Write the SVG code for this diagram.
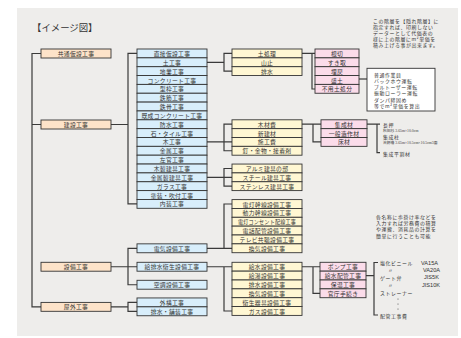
<svg xmlns="http://www.w3.org/2000/svg" width="461" height="338" viewBox="0 0 461 338">
<style>
.bx{stroke:#333;stroke-width:0.9}
.o{fill:#fde3c9}
.b{fill:#d8eefb}
.y{fill:#fff7d3}
.p{fill:#fbdcea}
.t{font-family:"Noto Sans CJK JP","Noto Sans",sans-serif;font-size:5.8px;fill:#333;text-anchor:middle;dominant-baseline:central;letter-spacing:0.3px}
.n{font-family:"Noto Sans CJK JP","Noto Sans",sans-serif;font-size:4.9px;fill:#333;dominant-baseline:central;letter-spacing:0.6px}
.s{font-family:"Liberation Serif","Noto Sans CJK JP",serif;font-size:3.8px;fill:#444;dominant-baseline:central}
.a{font-family:"Liberation Sans",sans-serif;font-size:5.6px;fill:#333;dominant-baseline:central}
.c{fill:none;stroke:#3a3a3a;stroke-width:1.2}
</style>
<rect x="0" y="0" width="461" height="338" fill="#ffffff"/>
<rect x="17" y="8" width="441" height="328" fill="#eeedeb"/>
<text x="32" y="27" font-family="Noto Sans CJK JP,sans-serif" font-size="9.4" fill="#333" dominant-baseline="central">【イメージ図】</text>

<g id="connectors" class="c">
<path d="M41,53.5H32V306.85H41M32,124.5H41"/>
<path d="M111,124.5H128M137,53.4H128V203.9H137"/>
<path d="M207,62.3H224M232,53.4H224V71.1H232"/>
<path d="M302,53.4H315M312,53.4V89H315"/>
<path d="M359,79H367"/>
<path d="M207,141.9H232M232,124.2H224V150.75H232"/>
<path d="M302,124.2H321M313,124.2V141.9H321"/>
<path d="M367,124.2H380M377,124.2V152.7H380"/>
<path d="M207,177.3H232M232,168.5H224V186.2H232"/>
<path d="M111,266.75H137M137,248.3H128V284.75H137"/>
<path d="M207,248.3H232M232,204H224V248.3"/>
<path d="M207,266.75H232M224,266.75V311H232"/>
<path d="M302,266.75H320M313,266.75V293.3H320"/>
<path d="M366,275.6H374M378,262.5H374V315H378"/>
<path d="M111,306.85H128M137,302.4H128V311.3H137"/>
</g>

<g id="kyotsu"><rect class="bx o" x="41" y="49" width="70" height="9"/><text class="t" x="76" y="53.5">共通仮設工事</text></g>
<g id="kensetsu"><rect class="bx o" x="41" y="120" width="70" height="9"/><text class="t" x="76" y="124.5">建設工事</text></g>
<g id="setsubi"><rect class="bx o" x="41" y="262.3" width="70" height="8.9"/><text class="t" x="76" y="266.75">設備工事</text></g>
<g id="okugai"><rect class="bx o" x="41" y="302.4" width="70" height="8.9"/><text class="t" x="76" y="306.85">屋外工事</text></g>

<g id="b01"><rect class="bx b" x="137" y="49" width="70" height="8.85"/><text class="t" x="172" y="53.4">直接仮設工事</text></g>
<g id="b02"><rect class="bx b" x="137" y="57.85" width="70" height="8.85"/><text class="t" x="172" y="62.3">土工事</text></g>
<g id="b03"><rect class="bx b" x="137" y="66.7" width="70" height="8.85"/><text class="t" x="172" y="71.1">地業工事</text></g>
<g id="b04"><rect class="bx b" x="137" y="75.55" width="70" height="8.85"/><text class="t" x="172" y="80">コンクリート工事</text></g>
<g id="b05"><rect class="bx b" x="137" y="84.4" width="70" height="8.85"/><text class="t" x="172" y="88.8">型枠工事</text></g>
<g id="b06"><rect class="bx b" x="137" y="93.25" width="70" height="8.85"/><text class="t" x="172" y="97.7">鉄筋工事</text></g>
<g id="b07"><rect class="bx b" x="137" y="102.1" width="70" height="8.85"/><text class="t" x="172" y="106.5">鉄骨工事</text></g>
<g id="b08"><rect class="bx b" x="137" y="110.95" width="70" height="8.85"/><text class="t" x="172" y="115.4">既成コンクリート工事</text></g>
<g id="b09"><rect class="bx b" x="137" y="119.8" width="70" height="8.85"/><text class="t" x="172" y="124.2">防水工事</text></g>
<g id="b10"><rect class="bx b" x="137" y="128.65" width="70" height="8.85"/><text class="t" x="172" y="133.1">石・タイル工事</text></g>
<g id="b11"><rect class="bx b" x="137" y="137.5" width="70" height="8.85"/><text class="t" x="172" y="141.9">木工事</text></g>
<g id="b12"><rect class="bx b" x="137" y="146.35" width="70" height="8.85"/><text class="t" x="172" y="150.8">金属工事</text></g>
<g id="b13"><rect class="bx b" x="137" y="155.2" width="70" height="8.85"/><text class="t" x="172" y="159.6">左官工事</text></g>
<g id="b14"><rect class="bx b" x="137" y="164.05" width="70" height="8.85"/><text class="t" x="172" y="168.5">木製建具工事</text></g>
<g id="b15"><rect class="bx b" x="137" y="172.9" width="70" height="8.85"/><text class="t" x="172" y="177.3">金属製建具工事</text></g>
<g id="b16"><rect class="bx b" x="137" y="181.75" width="70" height="8.85"/><text class="t" x="172" y="186.2">ガラス工事</text></g>
<g id="b17"><rect class="bx b" x="137" y="190.6" width="70" height="8.85"/><text class="t" x="172" y="195">塗装・吹付工事</text></g>
<g id="b18"><rect class="bx b" x="137" y="199.45" width="70" height="8.85"/><text class="t" x="172" y="203.9">内装工事</text></g>

<g id="b19"><rect class="bx b" x="137" y="243.85" width="70" height="8.9"/><text class="t" x="172" y="248.3">電気設備工事</text></g>
<g id="b20"><rect class="bx b" x="137" y="262.3" width="70" height="8.9"/><text class="t" x="172" y="266.75">給排水衛生設備工事</text></g>
<g id="b21"><rect class="bx b" x="137" y="280.3" width="70" height="8.9"/><text class="t" x="172" y="284.75">空調設備工事</text></g>
<g id="b22"><rect class="bx b" x="137" y="297.95" width="70" height="8.9"/><text class="t" x="172" y="302.4">外構工事</text></g>
<g id="b23"><rect class="bx b" x="137" y="306.85" width="70" height="8.9"/><text class="t" x="172" y="311.3">排水・舗装工事</text></g>

<g id="y01"><rect class="bx y" x="232" y="49" width="70" height="8.85"/><text class="t" x="267" y="53.4">土処理</text></g>
<g id="y02"><rect class="bx y" x="232" y="57.85" width="70" height="8.85"/><text class="t" x="267" y="62.3">山止</text></g>
<g id="y03"><rect class="bx y" x="232" y="66.7" width="70" height="8.85"/><text class="t" x="267" y="71.1">排水</text></g>

<g id="y04"><rect class="bx y" x="232" y="119.8" width="70" height="8.85"/><text class="t" x="267" y="124.2">木材費</text></g>
<g id="y05"><rect class="bx y" x="232" y="128.65" width="70" height="8.85"/><text class="t" x="267" y="133.1">新建材</text></g>
<g id="y06"><rect class="bx y" x="232" y="137.5" width="70" height="8.85"/><text class="t" x="267" y="141.9">施工費</text></g>
<g id="y07"><rect class="bx y" x="232" y="146.35" width="70" height="8.85"/><text class="t" x="267" y="150.8">釘・金物・接着剤</text></g>

<g id="y08"><rect class="bx y" x="232" y="164.05" width="70" height="8.85"/><text class="t" x="267" y="168.5">アルミ建具の部</text></g>
<g id="y09"><rect class="bx y" x="232" y="172.9" width="70" height="8.85"/><text class="t" x="267" y="177.3">スチール建具工事</text></g>
<g id="y10"><rect class="bx y" x="232" y="181.75" width="70" height="8.85"/><text class="t" x="267" y="186.2">ステンレス建具工事</text></g>

<g id="y11"><rect class="bx y" x="232" y="199.6" width="70" height="8.85"/><text class="t" x="267" y="204">電灯幹線設備工事</text></g>
<g id="y12"><rect class="bx y" x="232" y="208.45" width="70" height="8.85"/><text class="t" x="267" y="212.9">動力幹線設備工事</text></g>
<g id="y13"><rect class="bx y" x="232" y="217.3" width="70" height="8.85"/><text class="t" x="267" y="221.7" textLength="58" lengthAdjust="spacingAndGlyphs">電灯コンセント配線工事</text></g>
<g id="y14"><rect class="bx y" x="232" y="226.15" width="70" height="8.85"/><text class="t" x="267" y="230.6">電話配管設備工事</text></g>
<g id="y15"><rect class="bx y" x="232" y="235" width="70" height="8.85"/><text class="t" x="267" y="239.4">テレビ共聴設備工事</text></g>
<g id="y16"><rect class="bx y" x="232" y="243.85" width="70" height="8.85"/><text class="t" x="267" y="248.3">換気設備工事</text></g>

<g id="y17"><rect class="bx y" x="232" y="262.3" width="70" height="8.85"/><text class="t" x="267" y="266.75">給水設備工事</text></g>
<g id="y18"><rect class="bx y" x="232" y="271.15" width="70" height="8.85"/><text class="t" x="267" y="275.6">給湯設備工事</text></g>
<g id="y19"><rect class="bx y" x="232" y="280" width="70" height="8.85"/><text class="t" x="267" y="284.4">排水設備工事</text></g>
<g id="y20"><rect class="bx y" x="232" y="288.85" width="70" height="8.85"/><text class="t" x="267" y="293.3">換気設備工事</text></g>
<g id="y21"><rect class="bx y" x="232" y="297.7" width="70" height="8.85"/><text class="t" x="267" y="302.1">衛生器具設備工事</text></g>
<g id="y22"><rect class="bx y" x="232" y="306.55" width="70" height="8.85"/><text class="t" x="267" y="311">ガス設備工事</text></g>

<g id="p01"><rect class="bx p" x="315" y="49" width="44" height="8.85"/><text class="t" x="337" y="53.4">根切</text></g>
<g id="p02"><rect class="bx p" x="315" y="57.85" width="44" height="8.85"/><text class="t" x="337" y="62.3">すき取</text></g>
<g id="p03"><rect class="bx p" x="315" y="66.7" width="44" height="8.85"/><text class="t" x="337" y="71.1">埋戻</text></g>
<g id="p04"><rect class="bx p" x="315" y="75.55" width="44" height="8.85"/><text class="t" x="337" y="80">盛土</text></g>
<g id="p05"><rect class="bx p" x="315" y="84.4" width="44" height="8.85"/><text class="t" x="337" y="88.8">不用土処分</text></g>

<g id="p06"><rect class="bx p" x="321" y="119.8" width="46" height="8.85"/><text class="t" x="344" y="124.2">集成材</text></g>
<g id="p07"><rect class="bx p" x="321" y="128.65" width="46" height="8.85"/><text class="t" x="344" y="133.1">一般造作材</text></g>
<g id="p08"><rect class="bx p" x="321" y="137.5" width="46" height="8.85"/><text class="t" x="344" y="141.9">床材</text></g>

<g id="p09"><rect class="bx p" x="320" y="262.3" width="46" height="8.85"/><text class="t" x="343" y="266.75">ポンプ工事</text></g>
<g id="p10"><rect class="bx p" x="320" y="271.15" width="46" height="8.85"/><text class="t" x="343" y="275.6">給水配管工事</text></g>
<g id="p11"><rect class="bx p" x="320" y="280" width="46" height="8.85"/><text class="t" x="343" y="284.4">保温工事</text></g>
<g id="p12"><rect class="bx p" x="320" y="288.85" width="46" height="8.85"/><text class="t" x="343" y="293.3">官庁手続き</text></g>

<g id="note1">
<text class="n" x="373" y="20.7">この階層を【隠れ階層】に</text>
<text class="n" x="373" y="26.7">指定すれば、印刷しない</text>
<text class="n" x="373" y="32.7">データーとして代価表の</text>
<text class="n" x="373" y="38.6">様に上の階層にm²単価を</text>
<text class="n" x="373" y="44.5">積み上げる事が出来ます。</text>
</g>
<g id="note2">
<rect x="367" y="68.3" width="68" height="42.7" fill="#ffffff" stroke="#333" stroke-width="0.9"/>
<text class="n" x="374" y="74.2">普通作業員</text>
<text class="n" x="374" y="80.4">バックホウ運転</text>
<text class="n" x="374" y="86.6">ブルトーザー運転</text>
<text class="n" x="374" y="92.8">振動ローラー運転</text>
<text class="n" x="374" y="99">ダンパ締固め</text>
<text class="n" x="374" y="105.2">等でm³単価を算出</text>
</g>
<g id="note3">
<text class="n" x="383" y="124.3">長押</text>
<text class="s" x="383" y="130.7">秋田杉 3.65m×10.0cm</text>
<text class="n" x="383" y="136.8">集成柱</text>
<text class="s" x="383" y="143">吉野檜 3.65m×10.5cm×10.5cm3面</text>
<text class="n" x="383" y="153">集成平割材</text>
</g>
<g id="note4">
<text class="n" x="376" y="216.7">各名称に歩掛け率などを</text>
<text class="n" x="376" y="222.8">入力すれば労務費の積算</text>
<text class="n" x="376" y="228.9">や運搬、消耗品の計算を</text>
<text class="n" x="376" y="235">簡単に行うことも可能</text>
</g>
<g id="note5">
<text class="n" x="380" y="262.5">塩化ビニール</text>
<text class="a" x="421" y="262.5">VA15A</text>
<text class="n" x="388" y="269.5">〃</text>
<text class="a" x="423" y="269.5">VA20A</text>
<text class="n" x="380" y="277">ゲート弁</text>
<text class="a" x="424" y="277">JIS5K</text>
<text class="n" x="388" y="284.5">〃</text>
<text class="a" x="422" y="284.5">JIS10K</text>
<text class="n" x="380" y="292">ストレーナー</text>
<circle cx="398" cy="299" r="0.5" fill="#333"/>
<circle cx="398" cy="304" r="0.5" fill="#333"/>
<circle cx="398" cy="309" r="0.5" fill="#333"/>
<text class="n" x="380" y="315">配管工事費</text>
</g>
</svg>
